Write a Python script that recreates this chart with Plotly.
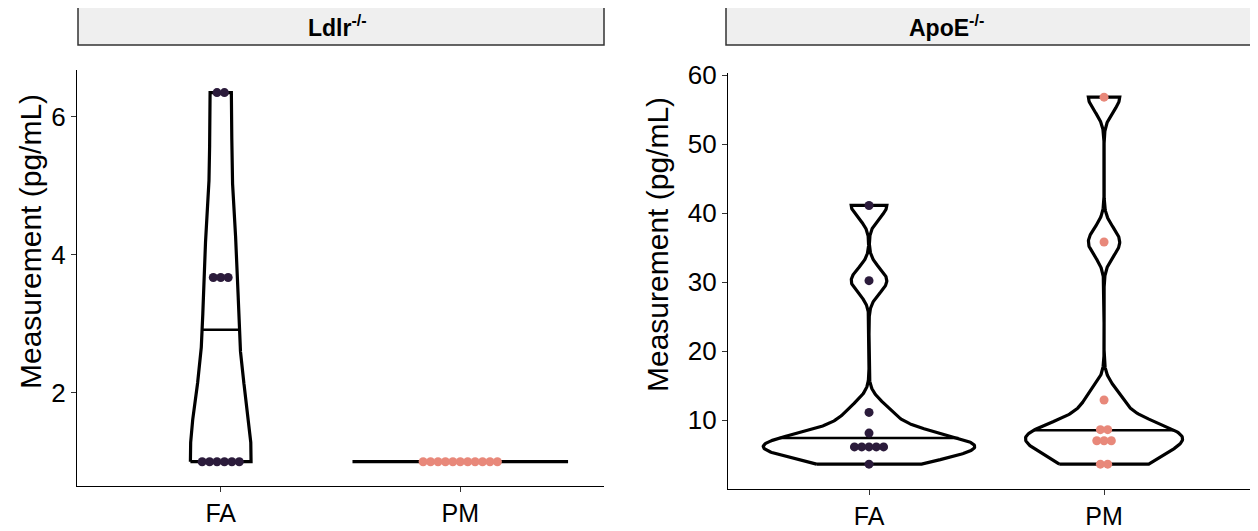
import numpy as np
import plotly.graph_objects as go

# ---------------- data ----------------
groups = ["FA", "PM"]
panels = ["Ldlr<sup>-/-</sup>", "ApoE<sup>-/-</sup>"]
y_title = "Measurement (pg/mL)"

ldlr_fa = [1.0, 1.0, 1.0, 1.0, 1.0, 1.0, 3.67, 3.67, 3.67, 6.35, 6.35]
ldlr_pm = [1.0, 1.0, 1.0, 1.0, 1.0, 1.0, 1.0, 1.0, 1.0, 1.0, 1.0]
apoe_fa = [41.1, 30.2, 11.1, 8.1, 6.1, 6.1, 6.1, 6.1, 6.1, 3.6]
apoe_pm = [56.8, 35.8, 12.9, 8.6, 8.6, 7.0, 7.0, 7.0, 3.6, 3.6]

ldlr_yticks = [2, 4, 6]
apoe_yticks = [10, 20, 30, 40, 50, 60]

group_colors = {"FA": "#2b1b3b", "PM": "#e8887a"}
FONT = "Liberation Sans, Arial, Helvetica, sans-serif"


# ---------------- helpers (ggplot-like violin) ----------------
def bw_nrd0(x):
    x = np.asarray(x, float)
    hi = np.std(x, ddof=1)
    q75, q25 = np.percentile(x, [75, 25])
    lo = min(hi, (q75 - q25) / 1.34)
    if not lo:
        lo = hi or abs(x[0]) or 1.0
    return 0.9 * lo * len(x) ** (-0.2)


def kde(x, grid):
    x = np.asarray(x, float)
    bw = bw_nrd0(x)
    z = (grid[:, None] - x[None, :]) / bw
    return np.exp(-0.5 * z ** 2).sum(axis=1) / (len(x) * bw * np.sqrt(2 * np.pi))


def violin_data(vals):
    lo, hi = min(vals), max(vals)
    grid = np.linspace(lo, hi, 512)
    dens = kde(vals, grid)
    return grid, dens


def add_panel(fig, data_list, xa, ya):
    vd = [violin_data(v) for v in data_list]
    dmax = max(d.max() for _, d in vd)
    for i, (vals, (grid, dens)) in enumerate(zip(data_list, vd)):
        pos = i + 1
        hw = 0.45 * dens / dmax
        if grid[-1] - grid[0] == 0:
            xs = [pos - 0.45, pos + 0.45]
            ys = [grid[0], grid[0]]
            fig.add_trace(go.Scatter(x=xs, y=ys, mode="lines", xaxis=xa, yaxis=ya,
                                     line=dict(color="black", width=3.2),
                                     hoverinfo="skip", showlegend=False))
        else:
            xs = np.concatenate([pos - hw, (pos + hw)[::-1], [pos - hw[0]]])
            ys = np.concatenate([grid, grid[::-1], [grid[0]]])
            fig.add_trace(go.Scatter(x=xs, y=ys, mode="lines", xaxis=xa, yaxis=ya,
                                     line=dict(color="black", width=3.2),
                                     hoverinfo="skip", showlegend=False))
            # median from the density (as ggplot draw_quantiles)
            cdf = np.cumsum(dens) / dens.sum()
            ymed = np.interp(0.5, cdf, grid)
            wmed = np.interp(ymed, grid, hw)
            fig.add_trace(go.Scatter(x=[pos - wmed, pos + wmed], y=[ymed, ymed],
                                     mode="lines", xaxis=xa, yaxis=ya,
                                     line=dict(color="black", width=2.6),
                                     hoverinfo="skip", showlegend=False))
    # dots, stacked centrally like a dotplot
    step = 0.031
    for i, vals in enumerate(data_list):
        pos = i + 1
        g = groups[i]
        xs, ys = [], []
        for u in sorted(set(vals)):
            k = vals.count(u)
            for j in range(k):
                xs.append(pos + (j - (k - 1) / 2) * step)
                ys.append(u)
        fig.add_trace(go.Scatter(x=xs, y=ys, mode="markers", xaxis=xa, yaxis=ya,
                                 marker=dict(color=group_colors[g], size=9,
                                             line=dict(width=0)),
                                 name=g, showlegend=False))


fig = go.Figure()
add_panel(fig, [ldlr_fa, ldlr_pm], "x", "y")
add_panel(fig, [apoe_fa, apoe_pm], "x2", "y2")

# page body has an 8px margin, so the figure is drawn 8px in from the corner
OFF = 8
W, H = 1258 - OFF, 531 - OFF


def px_x(p):
    return (p - OFF) / W


def px_y(p):
    return 1 - (p - OFF) / H


axis_common = dict(showline=True, linecolor="black", linewidth=1.4, ticks="outside",
                   ticklen=5, tickwidth=1.3, tickcolor="#333", showgrid=False,
                   zeroline=False, automargin=False)
ytick_font = dict(family=FONT, size=26, color="black")
xtick_font = dict(family=FONT, size=25, color="black")
title_font = dict(family=FONT, size=30, color="black")

fig.update_layout(
    template="none",
    width=W, height=H, margin=dict(l=0, r=0, t=0, b=0, pad=0),
    paper_bgcolor="white", plot_bgcolor="white", showlegend=False,
    xaxis=dict(domain=[px_x(77), px_x(604)], anchor="y", range=[0.4, 2.6],
               tickvals=[1, 2], ticktext=groups, tickfont=xtick_font, **axis_common),
    yaxis=dict(domain=[px_y(486), px_y(70)], anchor="x", range=[0.648, 6.677],
               tickvals=ldlr_yticks, tickfont=ytick_font, **axis_common),
    xaxis2=dict(domain=[px_x(728), 1.0], anchor="y2", range=[0.4, 2.655],
                tickvals=[1, 2], ticktext=groups, tickfont=xtick_font, **axis_common),
    yaxis2=dict(domain=[px_y(489), px_y(73)], anchor="x2", range=[0.0, 60.3],
                tickvals=apoe_yticks, tickfont=ytick_font, **axis_common),
)

# y-axis titles
for xc, yc in [(30, 242), (658, 245)]:
    fig.add_annotation(xref="paper", yref="paper", x=px_x(xc), y=px_y(yc),
                       text=y_title, textangle=-90, showarrow=False,
                       font=title_font, xanchor="center", yanchor="middle")

# facet strips
strips = [(px_x(78), px_x(604), px_x(337)), (px_x(726), 1.005, px_x(946))]
for (x0, x1, xc), lab in zip(strips, panels):
    fig.add_shape(type="rect", xref="paper", yref="paper", x0=x0, x1=x1,
                  y0=px_y(45), y1=px_y(7), fillcolor="#efefef",
                  line=dict(color="#333333", width=1.5), layer="below")
    fig.add_annotation(xref="paper", yref="paper", x=xc, y=px_y(26),
                       text="<b>" + lab + "</b>", showarrow=False,
                       font=dict(family=FONT, size=23, color="black"),
                       xanchor="center", yanchor="middle")

fig.write_html("out.html")
